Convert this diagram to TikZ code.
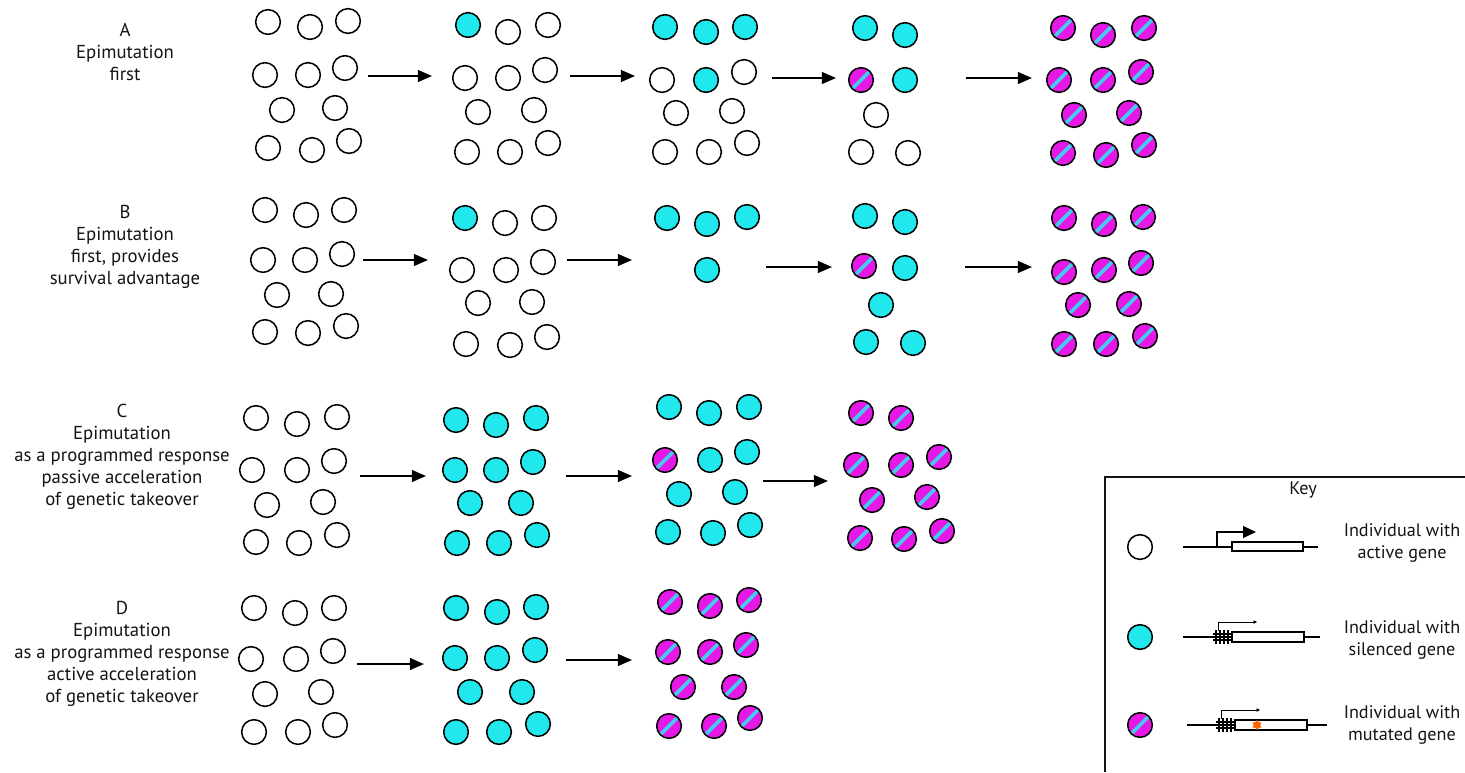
\documentclass[tikz,border=0pt]{standalone}
\usepackage{fontspec}
\setmainfont{PT Sans}
\usetikzlibrary{arrows.meta,shapes.geometric}

\definecolor{silcyan}{RGB}{32,232,236}
\definecolor{mutmag}{RGB}{230,24,230}
\definecolor{stripecyan}{RGB}{70,200,240}
\definecolor{inkgray}{RGB}{20,20,20}

\begin{document}
\begin{tikzpicture}[
    x=0.03cm, y=-0.03cm,
    ind/.style={circle, draw=black, line width=1.3pt, minimum size=0.74cm, inner sep=0pt},
    act/.style={ind, fill=white},
    sil/.style={ind, fill=silcyan},
    mut/.style={ind, fill=mutmag, path picture={
        \draw[stripecyan, line width=3.2pt]
          ([shift={(3pt,3pt)}]path picture bounding box.south west) --
          ([shift={(-3pt,-3pt)}]path picture bounding box.north east);}},
    go/.style={-{Triangle[length=12pt,width=10pt]}, line width=1.6pt, draw=black},
    rowlabel/.style={align=center, text=inkgray, font=\fontsize{16}{18.8}\selectfont},
    keytext/.style={align=center, text=inkgray, font=\fontsize{15.5}{18}\selectfont}
]
\useasboundingbox (0,0) rectangle (1465,772);

% row labels
\node[rowlabel] (labA) at (125,52) {A\\Epimutation\\first};
\node[rowlabel] (labB) at (125,247) {B\\Epimutation\\first, provides\\survival advantage};
\node[rowlabel] (labC) at (122,457) {C\\Epimutation\\as a programmed response\\passive acceleration\\of genetic takeover};
\node[rowlabel] (labD) at (122,654) {D\\Epimutation\\as a programmed response\\active acceleration\\of genetic takeover};

% row A
\foreach \x/\y [count=\i] in {268/22,310/27,348/21,265/75,308/75,345/68,282/110,335/108,268/148,312/150,349/141}
  \node[act] (a1-\i) at (\x,\y) {};
\foreach \x/\y/\s [count=\i] in {468/25/sil,508/32/act,548/25/act,465/78/act,508/78/act,545/70/act,478/112/act,534/110/act,467/152/act,510/152/act,548/143/act}
  \node[\s] (a2-\i) at (\x,\y) {};
\foreach \x/\y/\s [count=\i] in {665/27/sil,706/32/sil,745/27/sil,662/80/act,706/80/sil,744/72/act,676/113/act,732/111/act,665/152/act,709/152/act,747/143/act}
  \node[\s] (a3-\i) at (\x,\y) {};
\foreach \x/\y/\s [count=\i] in {865/28/sil,905/35/sil,861/80/mut,905/80/sil,876/115/act,861/152/act,908/153/act}
  \node[\s] (a4-\i) at (\x,\y) {};
\foreach \x/\y [count=\i] in {1063/28,1103/35,1144/28,1059/80,1103/80,1141/72,1074/115,1129/113,1063/153,1106/155,1144/145}
  \node[mut] (a5-\i) at (\x,\y) {};

% row B
\foreach \x/\y [count=\i] in {265/210,306/215,344/210,263/260,305/260,342/254,277/295,331/294,265/332,308/333,346/326}
  \node[act] (b1-\i) at (\x,\y) {};
\foreach \x/\y/\s [count=\i] in {465/218/sil,505/223/act,544/218/act,462/270/act,506/270/act,543/262/act,478/303/act,532/302/act,466/344/act,510/345/act,547/337/act}
  \node[\s] (b2-\i) at (\x,\y) {};
\foreach \x/\y [count=\i] in {667/218,707/224,747/217,707/270}
  \node[sil] (b3-\i) at (\x,\y) {};
\foreach \x/\y/\s [count=\i] in {865/216/sil,905/222/sil,864/266/mut,905/268/sil,881/305/sil,866/342/sil,913/343/sil}
  \node[\s] (b4-\i) at (\x,\y) {};
\foreach \x/\y [count=\i] in {1064/218,1104/224,1143/217,1064/272,1104/270,1141/263,1078/305,1129/304,1064/344,1106/344,1145/336}
  \node[mut] (b5-\i) at (\x,\y) {};

% row C
\foreach \x/\y [count=\i] in {256/418,297/424,337/417,252/470,297/470,334/461,267/505,323/502,256/542,299/543,337/535}
  \node[act] (c1-\i) at (\x,\y) {};
\foreach \x/\y [count=\i] in {456/420,496/425,536/418,455/470,496/470,533/462,470/503,521/503,457/543,499/543,537/535}
  \node[sil] (c2-\i) at (\x,\y) {};
\foreach \x/\y/\s [count=\i] in {669/407/sil,709/413/sil,749/407/sil,665/460/mut,710/460/sil,747/452/sil,679/494/sil,735/492/sil,668/532/sil,713/533/sil,750/525/sil}
  \node[\s] (c3-\i) at (\x,\y) {};
\foreach \x/\y [count=\i] in {861/413,901/418,856/465,901/465,939/457,872/500,927/497,860/538,904/539,942/531}
  \node[mut] (c4-\i) at (\x,\y) {};

% row D
\foreach \x/\y [count=\i] in {254/608,295/613,334/608,251/659,296/659,333/651,265/694,321/692,254/732,298/732,335/725}
  \node[act] (d1-\i) at (\x,\y) {};
\foreach \x/\y [count=\i] in {456/608,497/612,536/607,455/658,497/658,535/650,470/692,522/692,456/732,499/732,538/724}
  \node[sil] (d2-\i) at (\x,\y) {};
\foreach \x/\y [count=\i] in {670/602,710/606,749/600,668/652,710/652,746/645,683/687,734/687,669/726,714/726,750/718}
  \node[mut] (d3-\i) at (\x,\y) {};

% transitions
\foreach \r/\xa/\xb/\y [count=\k] in {
    a/368/432/76, a/570/635/76, a/772/836/78, a/966/1032/78,
    b/363/428/260, b/567/632/260, b/766/832/267, b/965/1032/267,
    c/360/426/476, c/566/632/476, c/763/828/481,
    d/357/424/664, d/566/632/660} {
  \coordinate (from\k) at (\xa,\y);
  \coordinate (to\k) at (\xb,\y);
  \draw[go] (from\k) -- (to\k);
}

% key
\draw[line width=1.2pt, draw=inkgray] (1105,772) |- (1465,477);
\node[keytext] (keytitle) at (1303,490) {Key};

\node[act] (kact) at (1140,547) {};
\node[sil] (ksil) at (1140,637) {};
\node[mut] (kmut) at (1140,725) {};

\node[keytext] (tact) at (1402,543) {Individual with\\active gene};
\node[keytext] (tsil) at (1402,640) {Individual with\\silenced gene};
\node[keytext] (tmut) at (1402,725) {Individual with\\mutated gene};

% active gene
\draw[line width=1.2pt] (1183,547) -- (1318,547);
\draw[line width=1.6pt, -{Triangle[length=11pt,width=10pt]}] (1217,547) |- (1256,532);
\draw[line width=1pt, fill=white] (1232,542) rectangle (1303,551);

% silenced gene
\draw[line width=1.2pt] (1183,637) -- (1320,637);
\draw[line width=0.6pt, -{Triangle[length=3pt,width=3pt]}] (1218,631) |- (1257,622);
\draw[line width=1pt, fill=white] (1232,632) rectangle (1304,642);
\foreach \m in {1216,1220,1224,1228}
  \draw[line width=1.4pt] (\m,630) -- (\m,644);
\draw[line width=1pt] (1213,634) -- (1232,634) (1213,640) -- (1232,640);

% mutated gene
\draw[line width=1.2pt] (1187,725) -- (1327,725);
\draw[line width=0.6pt, -{Triangle[length=3pt,width=3pt]}] (1221,719) |- (1260,710);
\draw[line width=1pt, fill=white] (1235,720) rectangle (1307,730);
\foreach \m in {1219,1223,1227,1231}
  \draw[line width=1.4pt] (\m,718) -- (\m,732);
\draw[line width=1pt] (1216,722) -- (1235,722) (1216,728) -- (1235,728);
\node[star, star points=6, fill=orange!80!red, minimum size=0.3cm, inner sep=0pt] (kstar) at (1257,725) {};

\end{tikzpicture}
\end{document}
